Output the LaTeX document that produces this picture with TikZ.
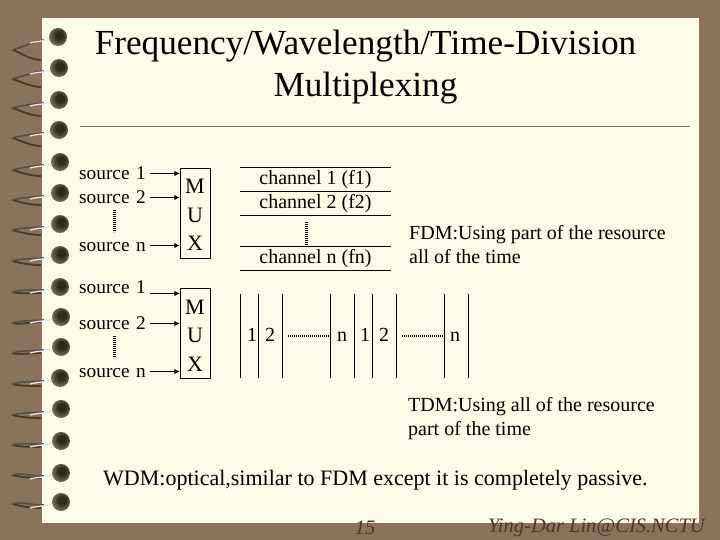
\documentclass[tikz,border=0pt]{standalone}
\usepackage{fontspec}
\setmainfont{Liberation Serif}
\usetikzlibrary{arrows.meta,calc,positioning}

\definecolor{deskbrown}{HTML}{8B735B}
\definecolor{paper}{HTML}{FCFBE6}
\definecolor{footbrown}{HTML}{4A3A28}
\definecolor{ballcore}{HTML}{2E2A1E}
\definecolor{ballmid}{HTML}{6E6A52}
\definecolor{ballrim}{HTML}{C9C7A8}
\pgfdeclareradialshading{ringball}{\pgfpoint{4bp}{6bp}}{color(0bp)=(ballcore); color(10bp)=(ballcore); color(26bp)=(ballmid); color(42bp)=(ballrim); color(56bp)=(paper)}

\tikzset{
  src/.style={inner sep=0pt,text width=71pt,text height=13pt,text depth=0.2pt,align=left,font=\fontsize{19.3}{24}\selectfont},
  mux/.style={draw,inner sep=0pt,minimum width=30pt,minimum height=90pt,align=center,font=\fontsize{22}{28.5}\selectfont},
  lbl/.style={inner sep=0pt,font=\fontsize{20}{24}\selectfont},
  note/.style={lbl,align=left,anchor=west},
  conn/.style={-{Latex[length=5.5pt,width=5.5pt]},line width=1.2pt},
  bar/.style={line width=1pt},
  vdots/.style={line width=3pt,dash pattern=on 1.3pt off 0.7pt},
  hdots/.style={line width=2.4pt,dash pattern=on 1.3pt off 0.7pt},
  foot/.style={inner sep=0pt,text=footbrown,font=\fontsize{20.5}{21}\selectfont\itshape}
}

\begin{document}
\begin{tikzpicture}[x=1pt,y=-1pt]
  \useasboundingbox (0,0) rectangle (720,540);
  \fill[deskbrown] (0,0) rectangle (720,540);
  \fill[paper] (42,18) rectangle (699,523);

  % spiral binding
  \foreach \y/\x/\t/\b in {37/58/13/23,68/59/11/19,100/59/8/16,130/59/8/16,162/60/8/14,193/60/7/12,
      224/60/6/11,255/60/6/10,287/60/5/6,317/61/6/5,347/61/6/6,378/60/6/8,409/61/6/9,441/61/4/6,473/61/2/5,502/61/2/6} {
    \draw[footbrown,line width=1.8pt] (41,{\y+\b}) .. controls (30,{\y+\b}) and (20,{\y+\t+2}) .. (12,{\y+\t});
    \draw[footbrown!70!gray,line width=1.7pt] (12,{\y+\t}) .. controls (24,{\y+\t-3}) and (34,{\y+4}) .. (44,{\y+3});
    \draw[white!80!gray,line width=1.3pt] (30,{\y+6}) .. controls (36,{\y+4}) and (44,{\y+5}) .. (\x-7,{\y+1});
    \shade[shading=ringball] (\x,\y) circle (9);
  }

  \node[inner sep=0pt,align=center,font=\fontsize{35.2}{42}\selectfont] (title) at (365.5,67) {Frequency/Wavelength/Time-Division\\Multiplexing};
  \coordinate (rule_l) at (80,126);
  \coordinate (rule_r) at (690,126);
  \draw[deskbrown,line width=0.8pt] (rule_l) -- (rule_r);

  % first mux
  \node[mux] (mux_1) at (195,213) {\rule{0pt}{19pt}M\\U\\X};
  \node[src,anchor=west] (src_1) at (79,173.5) {source 1};
  \node[src,below=24pt of src_1.center,anchor=center] (src_2) {source 2};
  \node[src,below=48pt of src_2.center,anchor=center] (src_3) {source n};
  \path[conn] (src_1.east) edge (src_1.east -| mux_1.west);
  \path[conn] (src_2.east) edge (src_2.east -| mux_1.west);
  \path[conn] (src_3.east) edge (src_3.east -| mux_1.west);
  \coordinate (dots_1a) at (114,210);
  \coordinate (dots_1b) at (114,232);
  \draw[vdots] (dots_1a) -- (dots_1b);

  % second mux
  \node[mux] (mux_2) at (195,333) {\rule{0pt}{19pt}M\\U\\X};
  \node[src,anchor=west] (src_4) at (79,287.5) {source 1};
  \node[src,below=36pt of src_4.center,anchor=center] (src_5) {source 2};
  \node[src,below=48pt of src_5.center,anchor=center] (src_6) {source n};
  \coordinate (in_4) at ([yshift=-6pt]src_4.east);
  \path[conn] (in_4) edge (in_4 -| mux_2.west);
  \path[conn] (src_5.east) edge (src_5.east -| mux_2.west);
  \path[conn] (src_6.east) edge (src_6.east -| mux_2.west);
  \coordinate (dots_2a) at (114,336);
  \coordinate (dots_2b) at (114,358);
  \draw[vdots] (dots_2a) -- (dots_2b);

  % channels
  \foreach \n/\y in {1/168,2/192,3/216,4/246,5/270} {
    \coordinate (cl_\n) at (240,\y);
    \coordinate (cr_\n) at (391,\y);
    \draw[bar] (cl_\n) -- (cr_\n);
  }
  \node[lbl] (chan_1) at (315.5,180) {channel 1 (f1)};
  \node[lbl] (chan_2) at (315.5,204) {channel 2 (f2)};
  \node[lbl] (chan_n) at (315.5,259) {channel n (fn)};
  \coordinate (dots_3a) at (306,222);
  \coordinate (dots_3b) at (306,245);
  \draw[vdots] (dots_3a) -- (dots_3b);

  % time slots
  \foreach \n/\x in {1/240,2/258,3/282,4/330,5/354,6/372,7/396,8/444,9/468} {
    \coordinate (vt_\n) at (\x,294);
    \coordinate (vb_\n) at (\x,378);
    \draw[bar] (vt_\n) -- (vb_\n);
  }
  \foreach \n/\x/\t in {a/252/1,b/270/2,c/342/n,d/365/1,e/384/2,f/455/n} {
    \node[lbl,anchor=base] (slot_\n) at (\x,341) {\t};
  }
  \coordinate (dots_4a) at (288,336);
  \coordinate (dots_4b) at (330,336);
  \coordinate (dots_5a) at (402,336);
  \coordinate (dots_5b) at (443,336);
  \draw[hdots] (dots_4a) -- (dots_4b);
  \draw[hdots] (dots_5a) -- (dots_5b);

  \node[note] (fdm) at (409,245) {FDM:Using part of the resource\\all of the time};
  \node[note] (tdm) at (408,419) {TDM:Using all of the resource\\part of the time};
  \node[inner sep=0pt,anchor=west,font=\fontsize{22}{22}\selectfont] (wdm) at (103,480) {WDM:optical,similar to FDM except it is completely passive.};

  \node[foot] (page) at (365,528) {15};
  \node[foot,anchor=east] (who) at (705,528) {Ying-Dar Lin@CIS.NCTU};
\end{tikzpicture}
\end{document}
